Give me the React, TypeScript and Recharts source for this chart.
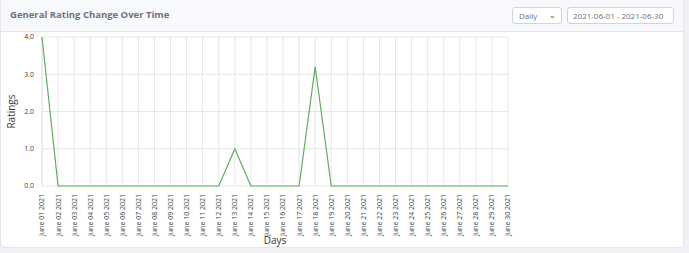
import { LineChart, Line, XAxis, YAxis, CartesianGrid } from "recharts";

const days = [
  "June 01 2021", "June 02 2021", "June 03 2021", "June 04 2021", "June 05 2021",
  "June 06 2021", "June 07 2021", "June 08 2021", "June 09 2021", "June 10 2021",
  "June 11 2021", "June 12 2021", "June 13 2021", "June 14 2021", "June 15 2021",
  "June 16 2021", "June 17 2021", "June 18 2021", "June 19 2021", "June 20 2021",
  "June 21 2021", "June 22 2021", "June 23 2021", "June 24 2021", "June 25 2021",
  "June 26 2021", "June 27 2021", "June 28 2021", "June 29 2021", "June 30 2021",
];

const ratings = [
  4, 0, 0, 0, 0, 0, 0, 0, 0, 0,
  0, 0, 1, 0, 0, 0, 0, 3.2, 0, 0,
  0, 0, 0, 0, 0, 0, 0, 0, 0, 0,
];

const yTicks = [0, 1, 2, 3, 4];

const chartData = days.map((day, i) => ({ day, rating: ratings[i] }));

const FONT = "'Open Sans', 'Noto Sans', sans-serif";

function DayTick(props: any) {
  const { x, y, payload } = props;
  return (
    <g transform={`translate(${x},${y})`}>
      <text
        transform="rotate(-90)"
        textAnchor="end"
        dy="0.35em"
        fontSize={7}
        fill="#444"
        fontFamily={FONT}
      >
        {payload.value}
      </text>
    </g>
  );
}

export default function App() {
  return (
    <div
      style={{
        position: "absolute",
        left: 0,
        top: 0,
        width: 689,
        height: 253,
        background: "#f0f1f5",
        fontFamily: FONT,
      }}
    >
      <div
        style={{
          position: "absolute",
          left: 0,
          top: 0,
          width: 684,
          height: 248,
          background: "#fff",
          border: "1px solid #e3e6f0",
          borderTop: "none",
          borderRadius: "0 0 4px 4px",
          boxSizing: "border-box",
        }}
      >
        <div
          style={{
            height: 32,
            background: "#f8f9fc",
            borderBottom: "1px solid #e3e6f0",
            boxSizing: "border-box",
            position: "relative",
          }}
        >
          <div
            style={{
              position: "absolute",
              left: 9,
              top: 8,
              fontSize: 9.5,
              fontWeight: 700,
              color: "#6e707e",
            }}
          >
            General Rating Change Over Time
          </div>
          <div
            style={{
              position: "absolute",
              left: 511,
              top: 7,
              width: 50,
              height: 17,
              background: "#fff",
              border: "1px solid #d1d3e2",
              borderRadius: 3,
              boxSizing: "border-box",
              fontSize: 8,
              color: "#6e707e",
              lineHeight: "15px",
              paddingLeft: 6,
            }}
          >
            Daily
            <span style={{ position: "absolute", right: 5, top: -1, fontSize: 8, color: "#555" }}>⌄</span>
          </div>
          <div
            style={{
              position: "absolute",
              left: 566,
              top: 7,
              width: 107,
              height: 17,
              background: "#fff",
              border: "1px solid #d1d3e2",
              borderRadius: 3,
              boxSizing: "border-box",
              fontSize: 8,
              color: "#6e707e",
              lineHeight: "15px",
              paddingLeft: 5,
            }}
          >
            2021-06-01 - 2021-06-30
          </div>
        </div>
        <div style={{ position: "absolute", left: 0, top: 32 }}>
          <LineChart
            width={540}
            height={216}
            data={chartData}
            margin={{ top: 5, right: 33, bottom: 0, left: 0 }}
          >
            <CartesianGrid stroke="#e6e6e6" strokeWidth={1} />
            <XAxis
              dataKey="day"
              interval={0}
              height={62}
              tick={<DayTick />}
              tickLine={false}
              axisLine={false}
              label={{
                value: "Days",
                position: "insideBottom",
                offset: 4,
                fontSize: 10,
                fill: "#333",
                fontFamily: FONT,
              }}
            />
            <YAxis
              width={41}
              domain={[0, 4]}
              ticks={yTicks}
              tickFormatter={(v: number) => v.toFixed(1)}
              tick={{ fontSize: 7, fill: "#444", fontFamily: FONT }}
              tickLine={false}
              axisLine={false}
              label={{
                value: "Ratings",
                angle: -90,
                position: "insideLeft",
                offset: 10,
                fontSize: 10,
                fill: "#333",
                fontFamily: FONT,
                style: { textAnchor: "middle" },
              }}
            />
            <Line
              type="linear"
              dataKey="rating"
              stroke="#5cad5c"
              strokeWidth={1.2}
              dot={false}
              isAnimationActive={false}
            />
          </LineChart>
        </div>
      </div>
    </div>
  );
}
